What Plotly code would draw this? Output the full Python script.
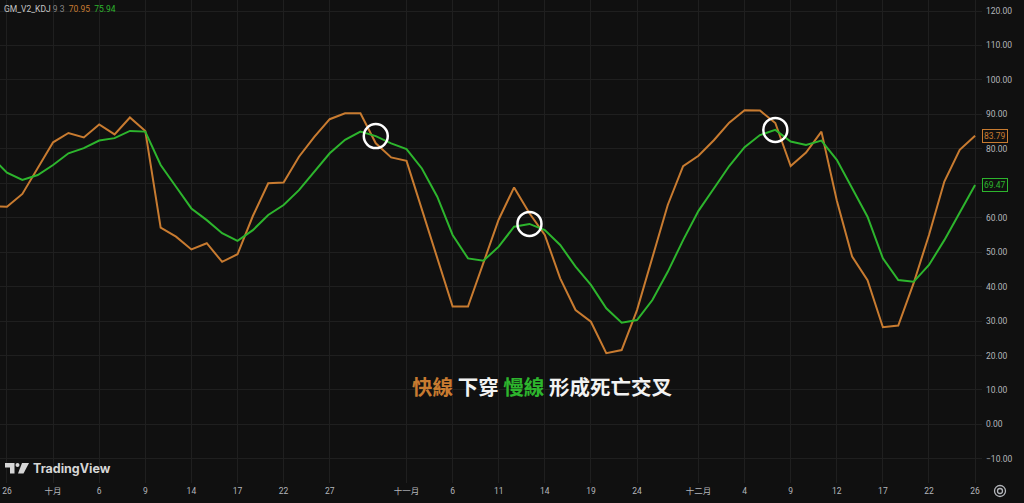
import plotly.graph_objects as go

# ---- data (bar index, fast line K, slow line D) ----
bars = list(range(-1, 64))
fast_k = [63.3, 63.2, 66.9, 74.5, 81.9, 84.6, 83.3, 87.1, 84.2, 89.1, 85.2,
          57.1, 54.5, 50.8, 52.6, 47.2, 49.4, 60.5, 70.0, 70.2, 77.7, 83.5,
          88.6, 90.3, 90.3, 81.6, 77.5, 76.5, 62.5, 48.0, 34.2, 34.2, 46.8,
          59.5, 68.8, 61.3, 55.0, 42.4, 33.2, 29.8, 20.7, 21.6, 33.2, 48.7,
          63.7, 75.0, 78.0, 82.5, 87.6, 91.2, 91.1, 87.5, 75.0, 78.9, 85.0,
          65.0, 48.7, 41.9, 28.2, 28.7, 41.0, 55.0, 70.5, 79.7, 83.79]
slow_d = [77.5, 73.1, 71.0, 72.4, 75.3, 78.7, 80.2, 82.4, 83.1, 85.2, 85.0,
          75.3, 69.0, 62.7, 59.3, 55.5, 53.3, 56.4, 60.8, 63.7, 68.0, 73.4,
          78.7, 82.6, 85.0, 83.7, 81.6, 79.9, 74.3, 66.1, 55.0, 48.2, 47.5,
          51.6, 57.4, 58.2, 56.4, 52.1, 45.8, 40.5, 33.7, 29.5, 30.3, 36.1,
          44.3, 53.5, 62.0, 68.5, 75.0, 80.5, 84.0, 85.5, 82.1, 81.1, 82.4,
          76.8, 68.5, 60.3, 48.2, 41.9, 41.4, 46.3, 53.5, 61.5, 69.47]

tick_bars = [0, 3, 6, 9, 12, 15, 18, 21, 26, 29, 32, 35, 38, 41, 45, 48, 51, 54, 57, 60, 63]
tick_labels = ["26", "十月", "6", "9", "14", "17", "22", "27", "十一月", "6", "11",
               "14", "19", "24", "十二月", "4", "9", "12", "17", "22", "26"]
price_ticks = list(range(-10, 121, 10))
cross_bars = [24, 34, 50]   # marked crossings (circled)

ORANGE = "#c87b30"
GREEN = "#2db52d"
BG = "#101010"
GRID = "#1f1f1f"
AXIS_TXT = "#b4b6bb"
FONT = "Roboto, 'Noto Sans CJK TC', sans-serif"

fig = go.Figure()
fig.add_trace(go.Scatter(x=bars, y=fast_k, mode="lines",
                         line=dict(color=ORANGE, width=2), hoverinfo="skip"))
fig.add_trace(go.Scatter(x=bars, y=slow_d, mode="lines",
                         line=dict(color=GREEN, width=2), hoverinfo="skip"))

shapes = []
for b in cross_bars:
    yv = slow_d[bars.index(b)]
    shapes.append(dict(type="circle", xref="x", yref="y",
                       xsizemode="pixel", ysizemode="pixel",
                       xanchor=b, yanchor=yv, x0=-12, x1=12, y0=-12, y1=12,
                       line=dict(color="white", width=2.5), layer="above"))

# TradingView logo icon (paper coords from plot size 982x483)
PW, PH = 982.0, 483.0
def px(xp):
    return xp / PW
def py(yp):
    return 1 - yp / PH
shapes.append(dict(type="path", xref="paper", yref="paper",
                   path=f"M {px(5)} {py(463)} L {px(14.5)} {py(463)} L {px(14.5)} {py(473.5)} "
                        f"L {px(10)} {py(473.5)} L {px(10)} {py(467.5)} L {px(5)} {py(467.5)} Z",
                   fillcolor="#d6d6d6", line=dict(width=0)))
shapes.append(dict(type="circle", xref="paper", yref="paper",
                   x0=px(15.5), x1=px(19.5), y0=py(463), y1=py(467),
                   fillcolor="#d6d6d6", line=dict(width=0)))
shapes.append(dict(type="path", xref="paper", yref="paper",
                   path=f"M {px(22)} {py(463)} L {px(29)} {py(463)} L {px(23.5)} {py(473.5)} "
                        f"L {px(18)} {py(473.5)} Z",
                   fillcolor="#d6d6d6", line=dict(width=0)))
# settings gear icon
shapes.append(dict(type="circle", xref="paper", yref="paper",
                   x0=px(994.5), x1=px(1005.5), y0=py(485.5), y1=py(496.5),
                   line=dict(color="#b4b6bb", width=1.3)))
shapes.append(dict(type="circle", xref="paper", yref="paper",
                   x0=px(997.5), x1=px(1002.5), y0=py(488.5), y1=py(493.5),
                   line=dict(color="#b4b6bb", width=1.3)))

annotations = [
    dict(xref="paper", yref="paper", x=0, y=1, xanchor="left", yanchor="top",
         xshift=2, yshift=-2, showarrow=False,
         text=(f"<span style='color:#c4c4c4'>GM_V2_KDJ</span>"
               f"<span style='color:#858585'> 9 3 </span>"
               f"<span style='color:{ORANGE}'> 70.95 </span>"
               f"<span style='color:{GREEN}'> 75.94</span>"),
         font=dict(size=8.5, family=FONT)),
    dict(xref="paper", yref="paper", x=px(542), y=py(386), xanchor="center",
         yanchor="middle", showarrow=False,
         text=(f"<b><span style='color:{ORANGE}'>快線</span>"
               f"<span style='color:#f2f2f2'> 下穿 </span>"
               f"<span style='color:{GREEN}'>慢線</span>"
               f"<span style='color:#f2f2f2'> 形成死亡交叉</span></b>"),
         font=dict(size=20.5, family="'Noto Sans CJK TC', sans-serif")),
    dict(xref="paper", yref="paper", x=px(31), y=py(468), xanchor="left",
         yanchor="middle", showarrow=False, text="<b>TradingView</b>",
         font=dict(size=12.5, color="#d6d6d6", family="Inter, Roboto, sans-serif")),
    dict(xref="paper", yref="y", x=1, y=fast_k[-1], xanchor="left", yanchor="middle",
         showarrow=False, text=f"{fast_k[-1]:.2f}",
         font=dict(size=8.5, color=ORANGE, family=FONT),
         bgcolor=BG, bordercolor=ORANGE, borderwidth=1, borderpad=1),
    dict(xref="paper", yref="y", x=1, y=slow_d[-1], xanchor="left", yanchor="middle",
         showarrow=False, text=f"{slow_d[-1]:.2f}",
         font=dict(size=8.5, color=GREEN, family=FONT),
         bgcolor=BG, bordercolor=GREEN, borderwidth=1, borderpad=1),
]

fig.update_layout(
    width=1024, height=503,
    margin=dict(l=0, r=42, t=0, b=20),
    paper_bgcolor=BG, plot_bgcolor=BG,
    showlegend=False,
    font=dict(family=FONT, color=AXIS_TXT, size=8.5),
    shapes=shapes, annotations=annotations,
    xaxis=dict(range=[-0.455, 63.45], tickmode="array", tickvals=tick_bars,
               ticktext=tick_labels, showgrid=True, gridcolor=GRID, gridwidth=1,
               zeroline=False, showline=False, ticks="", ticklabelstandoff=1,
               tickfont=dict(size=8.5, color=AXIS_TXT, family=FONT), fixedrange=True),
    yaxis=dict(range=[-17.0, 123.2], side="right", tickmode="array",
               tickvals=price_ticks, tickformat=".2f", showgrid=True,
               gridcolor=GRID, gridwidth=1, zeroline=False, showline=False,
               ticks="", ticklabelstandoff=3,
               tickfont=dict(size=8.5, color=AXIS_TXT, family=FONT), fixedrange=True),
)

fig.write_html("out.html", config={"displayModeBar": False},
               post_script="document.body.style.margin='0';document.body.style.overflow='hidden';")
